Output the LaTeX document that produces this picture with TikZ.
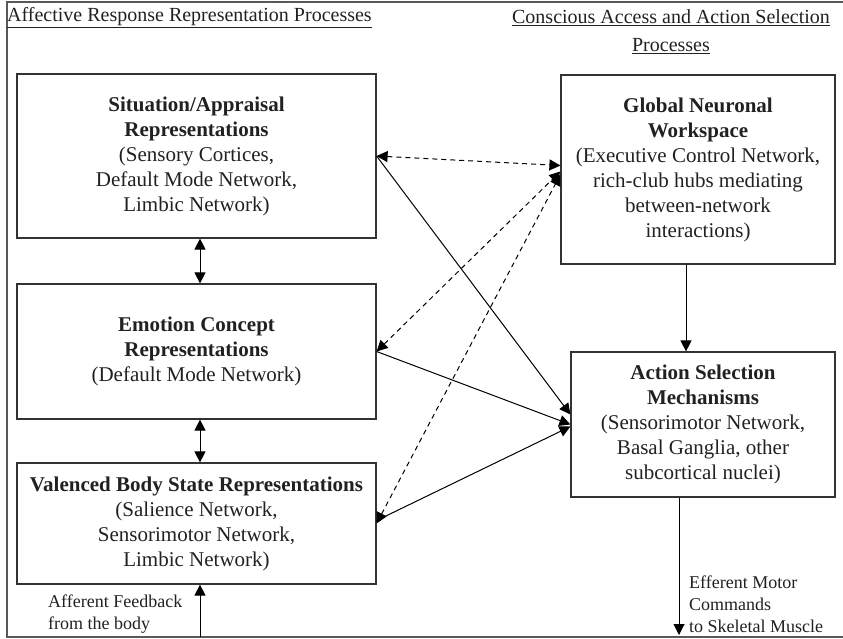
\documentclass[tikz,border=0pt]{standalone}
\usepackage{fontspec}
\setmainfont{Liberation Serif}
\usetikzlibrary{arrows.meta,calc}
\definecolor{boxgray}{rgb}{0.2,0.2,0.2}
\definecolor{txtgray}{rgb}{0.13,0.13,0.13}
\definecolor{framegray}{rgb}{0.35,0.35,0.35}
\tikzstyle{box} = [rectangle, draw=boxgray, line width=1.2pt, align=center, text=txtgray, inner sep=0pt, font=\fontsize{21}{25}\selectfont]
\tikzstyle{head} = [text=txtgray, inner sep=0pt, font=\fontsize{20}{28}\selectfont]
\tikzstyle{note} = [text=txtgray, inner sep=0pt, align=left, font=\fontsize{18}{22}\selectfont]
\tikzstyle{arrow} = [line width=1pt, >={Triangle[length=11pt,width=11pt]}]
\tikzstyle{dasharrow} = [arrow, dash pattern=on 5pt off 4pt]

\begin{document}
\begin{tikzpicture}[x=1pt,y=-1pt]
\useasboundingbox (0,0) rectangle (843,638);
\draw[framegray, line width=1.2pt] (843,2) -- (7,2) -- (7,637) -- (843,637);
% column headings
\node[head, anchor=west] (hl) at (7,18) {\underline{Affective Response Representation Processes}};
\node[head, align=center] (hr) at (671,32) {\underline{Conscious Access and Action Selection}\\\underline{Processes}};
% left column
\node[box, minimum width=359pt, minimum height=164pt] (S) at (196.5,156) {\textbf{Situation/Appraisal}\\\textbf{Representations}\\(Sensory Cortices,\\Default Mode Network,\\Limbic Network)};
\node[box, minimum width=359pt, minimum height=135pt] (E) at (196.5,351.5) {\textbf{Emotion Concept}\\\textbf{Representations}\\(Default Mode Network)};
\node[box, minimum width=359pt, minimum height=121pt] (V) at (196.5,523.5) {\textbf{Valenced Body State Representations}\\(Salience Network,\\Sensorimotor Network,\\Limbic Network)};
% right column
\node[box, minimum width=274pt, minimum height=189pt] (G) at (698,169.5) {\textbf{Global Neuronal}\\\textbf{Workspace}\\(Executive Control Network,\\rich-club hubs mediating\\between-network\\interactions)};
\node[box, minimum width=264pt, minimum height=145pt] (A) at (703,424.5) {\textbf{Action Selection}\\\textbf{Mechanisms}\\(Sensorimotor Network,\\Basal Ganglia, other\\subcortical nuclei)};
\node[note, anchor=west] (aff) at (48,614.5) {Afferent Feedback\\from the body};
\node[note, anchor=west] (eff) at (689,604) {Efferent Motor\\Commands\\to Skeletal Muscle};
\coordinate (body) at (200,637);
\coordinate (muscle) at (679,635);
\coordinate (ga) at (686,0);
\draw[arrow, <->] (S.south -| body) -- (E.north -| body);
\draw[arrow, <->] (E.south -| body) -- (V.north -| body);
\draw[dasharrow, <->] (S.east) -- ($(G.west)+(0,-4)$);
\draw[dasharrow, <->] (E.east) -- ($(G.west)+(0,2)$);
\draw[dasharrow, <->] (V.east) -- ($(G.west)+(0,5)$);
\draw[arrow, ->] (S.east) -- ($(A.west)+(0,-10)$);
\draw[arrow, ->] (E.east) -- (A.west);
\draw[arrow, ->] ($(V.east)+(0,-3)$) -- ($(A.west)+(0,2)$);
\draw[arrow, ->] (G.south -| ga) -- (A.north -| ga);
\draw[arrow, ->] (A.south -| muscle) -- (muscle);
\draw[arrow, ->] (body) -- (V.south -| body);
\end{tikzpicture}
\end{document}
